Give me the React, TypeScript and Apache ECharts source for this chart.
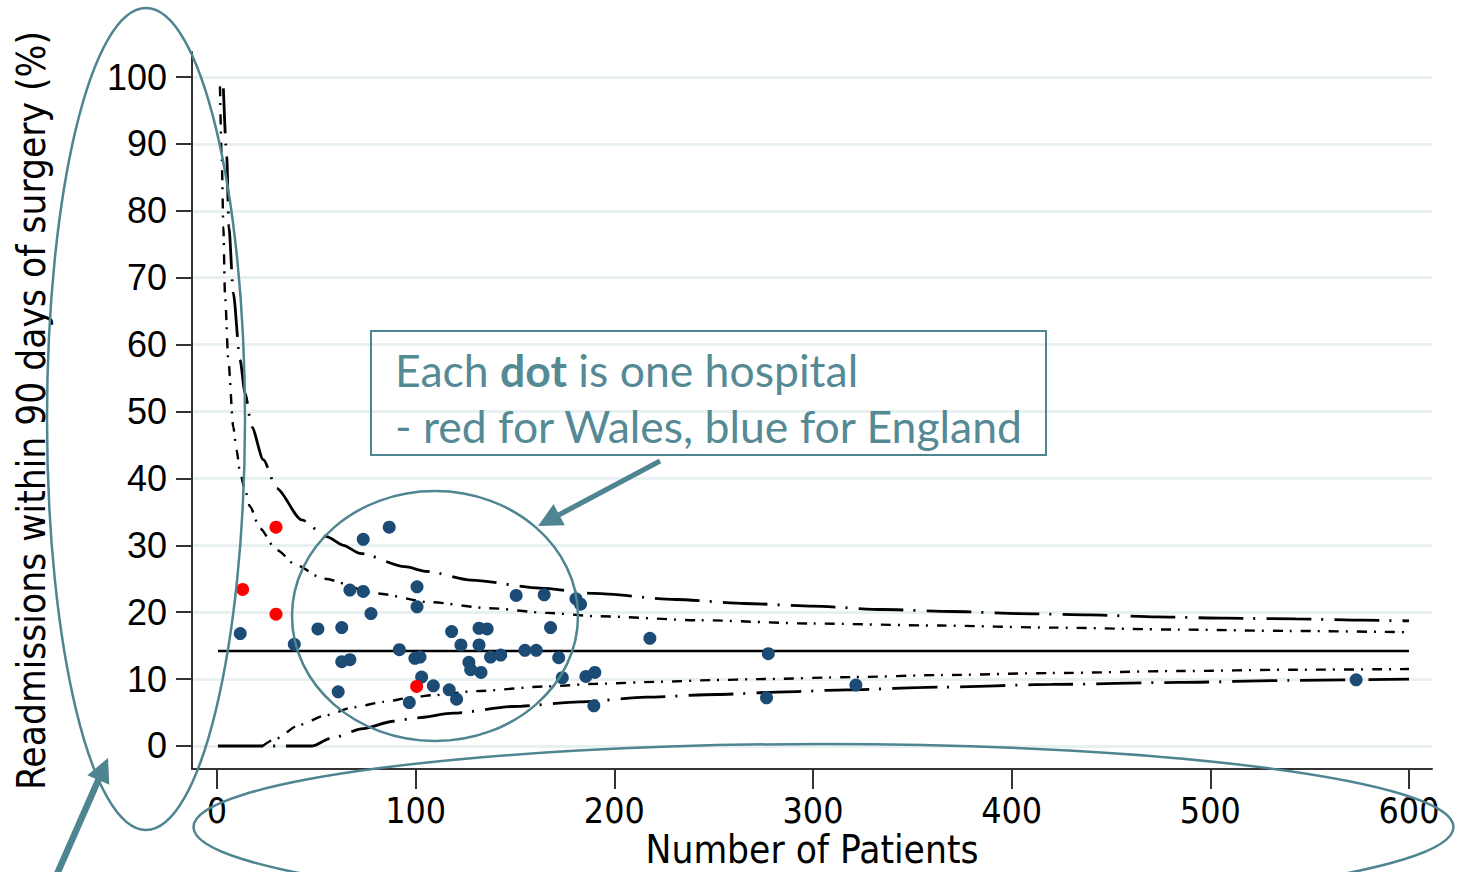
import React, { useEffect, useRef } from "react";
import * as echarts from "echarts";

// ---- tick labels ----
const xTickValues = [0, 100, 200, 300, 400, 500, 600];
const yTickValues = [0, 10, 20, 30, 40, 50, 60, 70, 80, 90, 100];

// ---- hospitals: Wales (red) ----
const walesN = [12.9, 29.7, 29.7, 100.5];
const walesRate = [23.4, 32.7, 19.7, 8.9];

// ---- hospitals: England (blue) ----
const englandN = [
  11.7, 38.9, 50.8, 61, 62.8, 62.8, 66.9, 66.9, 73.6, 73.6, 77.5, 86.7, 91.8, 96.8, 99.6,
  100.7, 100.7, 102.2, 103, 108.9, 116.9, 118.1, 120.6, 122.8, 126.8, 127.7, 131.9, 136,
  131.9, 132.9, 137.7, 142.8, 150.6, 155, 160.7, 164.7, 167.9, 172, 173.8, 180.7, 183,
  185.7, 190.2, 189.7, 217.9, 277.5, 276.6, 321.6, 573.4,
];
const englandRate = [
  16.8, 15.2, 17.5, 8.1, 17.7, 12.6, 12.9, 23.3, 23.1, 30.9, 19.8, 32.7, 14.4, 6.5, 13.1,
  23.8, 20.8, 13.3, 10.3, 9.0, 8.4, 17.1, 7.0, 15.1, 12.5, 11.4, 17.6, 17.5, 15.1, 11.0,
  13.3, 13.6, 22.5, 14.3, 14.3, 22.6, 17.7, 13.2, 10.2, 22.0, 21.2, 10.4, 11.0, 6.0, 16.1,
  13.8, 7.2, 9.1, 9.9,
];

// ---- national average ----
const centreN = [0.5, 600];
const centreRate = [14.2, 14.2];

// ---- outer limits (99.8%) ----
const outerUpperN = [3.2, 4.9, 6.0, 8.2, 11.6, 14.1, 17.5, 23.3, 30, 42.6, 55.2, 63.6, 72, 94.6, 105.5, 128, 162.6, 190, 231, 265.7, 300, 335, 370, 404, 439, 473, 508, 543, 577, 600];
const outerUpperRate = [98.3, 88.1, 77.6, 67.7, 57.7, 52.8, 47.7, 42.8, 38.5, 33.8, 31.3, 30.0, 28.8, 26.8, 26.1, 24.8, 23.6, 22.8, 21.9, 21.3, 20.9, 20.4, 20.1, 19.8, 19.6, 19.3, 19.1, 19.0, 18.8, 18.7];
const outerLowerN = [0.5, 48, 57, 73.6, 88.7, 100, 119, 149, 182.7, 216, 251.5, 286.7, 317, 364, 420, 484, 540, 600];
const outerLowerRate = [0, 0, 1.1, 2.6, 3.7, 4.2, 4.9, 5.9, 6.6, 7.3, 7.7, 8.1, 8.4, 8.8, 9.2, 9.5, 9.8, 10.0];

// ---- inner limits (95%) ----
const innerUpperN = [1.5, 2.4, 3.2, 4.0, 5.7, 8.2, 9.9, 11.6, 14.1, 16.6, 21.6, 30, 40, 53.5, 80.4, 107, 137, 166, 191, 243, 300, 364, 420, 484, 540, 600];
const innerUpperRate = [98.6, 87.6, 77.6, 67.7, 57.7, 47.7, 44.2, 40.8, 38.3, 35.8, 32.5, 29.3, 27.0, 25.0, 22.8, 21.5, 20.6, 19.9, 19.4, 18.8, 18.3, 18.0, 17.7, 17.4, 17.2, 17.0];
const innerLowerN = [23, 29, 41.8, 55, 69, 84, 98.8, 109, 130, 166, 191, 223, 250, 273, 320, 364, 420, 484, 540, 600];
const innerLowerRate = [0, 1.0, 3.2, 4.6, 5.8, 6.6, 7.3, 7.6, 8.2, 8.9, 9.3, 9.6, 9.85, 10.0, 10.3, 10.6, 10.9, 11.2, 11.4, 11.5];

const TEAL = "#4f8590";
const TEAL_TEXT = "#558a95";
const BLUE = "#1c4b75";
const NARROW = "'Liberation Sans Narrow', 'DejaVu Sans Condensed', sans-serif";
const CALLOUT_FONT = "Lato, 'Open Sans', sans-serif";

const zip = (a: number[], b: number[]) => a.map((v, i) => [v, b[i]]);

function arrow(tail: number[], tip: number[], headLen: number, headHalf: number, shaftHalf: number) {
  const dx = tip[0] - tail[0];
  const dy = tip[1] - tail[1];
  const len = Math.hypot(dx, dy);
  const ux = dx / len, uy = dy / len;
  const px = -uy, py = ux;
  const bx = tip[0] - ux * headLen, by = tip[1] - uy * headLen;
  return [
    [tail[0] + px * shaftHalf, tail[1] + py * shaftHalf],
    [bx + px * shaftHalf, by + py * shaftHalf],
    [bx + px * headHalf, by + py * headHalf],
    [tip[0], tip[1]],
    [bx - px * headHalf, by - py * headHalf],
    [bx - px * shaftHalf, by - py * shaftHalf],
    [tail[0] - px * shaftHalf, tail[1] - py * shaftHalf],
  ];
}

export default function App() {
  const ref = useRef<HTMLDivElement>(null);
  useEffect(() => {
    if (!ref.current) return;
    const chart = echarts.init(ref.current, undefined, { renderer: "svg" });
    const limitBase = { type: "line", showSymbol: false, symbol: "none", smooth: 0.25, smoothMonotone: "x", z: 3, silent: true, clip: false };
    chart.setOption({
      animation: false,
      backgroundColor: "#ffffff",
      grid: { left: 192, right: 25, top: 52, bottom: 103, containLabel: false, outerBoundsMode: "none" },
      xAxis: {
        type: "value",
        min: -12.58,
        max: 611.58,
        name: "Number of Patients",
        nameLocation: "middle",
        nameGap: 63,
        nameMoveOverlap: false,
        nameTextStyle: { fontFamily: NARROW, fontSize: 38.5, lineHeight: 34, color: "#000" },
        axisLine: { show: true, onZero: false, lineStyle: { color: "#333", width: 2 } },
        axisTick: { show: true, length: 20, customValues: xTickValues, lineStyle: { color: "#333", width: 2 } },
        axisLabel: { customValues: xTickValues, margin: 25, fontFamily: NARROW, fontSize: 35.5, lineHeight: 32, color: "#000" },
        splitLine: { show: false },
      },
      yAxis: {
        type: "value",
        min: -3.44,
        max: 103.74,
        name: "Readmissions within 90 days of surgery (%)",
        nameLocation: "middle",
        nameGap: 141,
        nameMoveOverlap: false,
        nameTextStyle: { fontFamily: NARROW, fontSize: 38.5, color: "#000" },
        axisLine: { show: true, onZero: false, lineStyle: { color: "#333", width: 2 } },
        axisTick: { show: true, length: 16, customValues: yTickValues, lineStyle: { color: "#333", width: 2 } },
        axisLabel: { customValues: yTickValues, margin: 25, fontFamily: "'Liberation Sans', Arial, sans-serif", fontSize: 36, color: "#000" },
        splitLine: { show: false },
      },
      series: [
        {
          type: "line",
          data: [],
          z: 0,
          silent: true,
          markLine: {
            z: 0,
            silent: true,
            symbol: "none",
            label: { show: false },
            lineStyle: { color: "#e8f0f1", width: 3, type: "solid" },
            data: yTickValues.map((v) => ({ yAxis: v })),
          },
        },
        { ...limitBase, data: zip(outerUpperN, outerUpperRate), lineStyle: { color: "#000", width: 2.8, type: [45, 10, 2, 11] } },
        { ...limitBase, data: zip(outerLowerN, outerLowerRate), lineStyle: { color: "#000", width: 2.8, type: [45, 10, 2, 11] } },
        { ...limitBase, data: zip(innerUpperN, innerUpperRate), lineStyle: { color: "#000", width: 2.4, type: [10, 7, 2, 9] } },
        { ...limitBase, data: zip(innerLowerN, innerLowerRate), lineStyle: { color: "#000", width: 2.4, type: [10, 7, 2, 9] } },
        { type: "line", showSymbol: false, symbol: "none", z: 3, silent: true, data: zip(centreN, centreRate), lineStyle: { color: "#000", width: 2.4 } },
        { type: "scatter", z: 5, symbolSize: 13, data: zip(englandN, englandRate), itemStyle: { color: BLUE, opacity: 1 } },
        { type: "scatter", z: 6, symbolSize: 13, data: zip(walesN, walesRate), itemStyle: { color: "#ff0000", opacity: 1 } },
      ],
      graphic: [
        { type: "ellipse", z: 100, silent: true, shape: { cx: 146, cy: 419, rx: 99, ry: 411 }, style: { fill: "none", stroke: TEAL, lineWidth: 2.5 } },
        { type: "ellipse", z: 100, silent: true, shape: { cx: 823.5, cy: 827, rx: 630, ry: 83 }, style: { fill: "none", stroke: TEAL, lineWidth: 2.5 } },
        { type: "ellipse", z: 100, silent: true, shape: { cx: 435, cy: 616, rx: 143, ry: 125 }, style: { fill: "none", stroke: TEAL, lineWidth: 2.5 } },
        { type: "rect", z: 100, silent: true, shape: { x: 371, y: 331, width: 675, height: 124 }, style: { fill: "none", stroke: TEAL, lineWidth: 2 } },
        {
          type: "text", z: 101, silent: true, x: 395, y: 369,
          style: {
            text: "{n|Each }{b|dot}{n| is one hospital}",
            verticalAlign: "middle",
            rich: {
              n: { fontFamily: CALLOUT_FONT, fontSize: 44.5, fill: TEAL_TEXT, color: TEAL_TEXT },
              b: { fontFamily: CALLOUT_FONT, fontSize: 44.5, fontWeight: "bold", fill: TEAL_TEXT, color: TEAL_TEXT },
            },
          },
        },
        {
          type: "text", z: 101, silent: true, x: 395, y: 425,
          style: { text: "- red for Wales, blue for England", verticalAlign: "middle", fontFamily: CALLOUT_FONT, fontSize: 44.5, fill: TEAL_TEXT },
        },
        { type: "polygon", z: 100, silent: true, shape: { points: arrow([660, 461], [538, 526], 24, 12, 2.6) }, style: { fill: TEAL } },
        { type: "polygon", z: 100, silent: true, shape: { points: arrow([50, 890], [108, 758], 24, 12, 3.3) }, style: { fill: TEAL } },
      ],
    });
    return () => chart.dispose();
  }, []);
  return <div ref={ref} style={{ position: "fixed", left: 0, top: 0, width: 1457, height: 872, background: "#fff" }} />;
}
